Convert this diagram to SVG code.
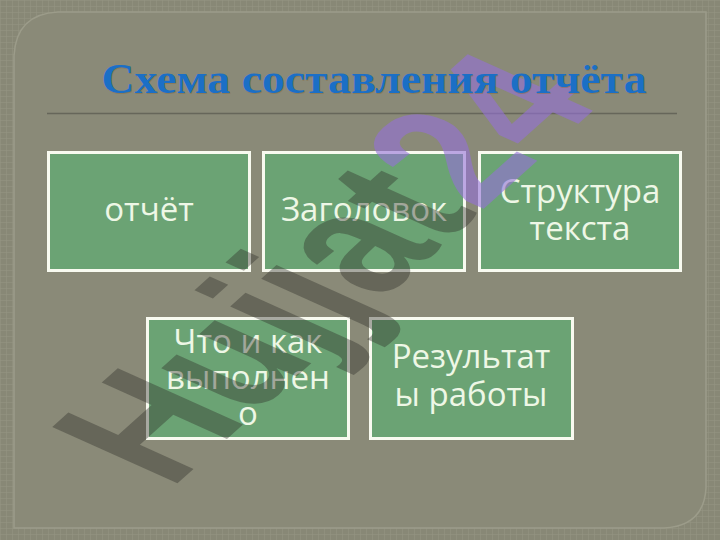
<svg xmlns="http://www.w3.org/2000/svg" width="720" height="540" viewBox="0 0 720 540">
  <defs>
    <pattern id="grid" width="12" height="12" patternUnits="userSpaceOnUse">
      <rect width="12" height="12" fill="#888876"/>
      <path d="M0.5 0V12M6.5 0V12M0 0.5H12M0 6.5H12" stroke="#959583" stroke-width="1" fill="none" opacity="0.5"/>
    </pattern>
  </defs>
  <style>
    .box { fill: #6ba374; stroke: #f8faf0; stroke-width: 3; }
    .lbl { font-family: "Open Sans", "Noto Sans", "DejaVu Sans", sans-serif; font-size: 33px; fill: #eef7e6; text-anchor: middle; }
    .title { font-family: "Liberation Serif", "DejaVu Serif", serif; font-weight: bold; font-size: 42px; text-anchor: middle; }
    .wm { font-family: "Liberation Sans", "DejaVu Sans", sans-serif; font-weight: bold; font-size: 100px; }
  </style>

  <!-- background -->
  <rect x="0" y="0" width="720" height="540" fill="url(#grid)"/>
  <path d="M14,56 Q16,14 58,12 L706,12 L706,488 Q704,526 664,528 L14,528 Z" fill="#8a8a78" stroke="#9c9c8a" stroke-width="1.5"/>
  <line x1="47" y1="113.5" x2="677" y2="113.5" stroke="#66665a" stroke-width="1.5"/>

  <!-- nodes -->
  <g id="node-otchet">
    <rect class="box" x="48.5" y="152.5" width="201" height="118"/>
    <text class="lbl" x="149" y="221">отчёт</text>
  </g>
  <g id="node-zagolovok">
    <rect class="box" x="263.5" y="152.5" width="201" height="118"/>
    <text class="lbl" x="364" y="221">Заголовок</text>
  </g>
  <g id="node-struktura">
    <rect class="box" x="479.5" y="152.5" width="201" height="118"/>
    <text class="lbl" x="580" y="203">Структура</text>
    <text class="lbl" x="580" y="240">текста</text>
  </g>
  <g id="node-chto">
    <rect class="box" x="147.5" y="318.5" width="201" height="120"/>
    <text class="lbl" x="248" y="353">Что и как</text>
    <text class="lbl" x="248" y="389">выполнен</text>
    <text class="lbl" x="248" y="425">о</text>
  </g>
  <g id="node-rezultaty">
    <rect class="box" x="370.5" y="318.5" width="202" height="120"/>
    <text class="lbl" x="471" y="368">Результат</text>
    <text class="lbl" x="471" y="406">ы работы</text>
  </g>

  <g id="connectors"></g>

  <!-- watermark -->
  <g id="watermark" transform="matrix(1.115,-1.0,1.82,0.82,170,490)">
    <text class="wm" x="0" y="0"><tspan fill="#30302a" fill-opacity="0.4">Hujjat</tspan><tspan fill="#9570d8" fill-opacity="0.6">24</tspan></text>
  </g>

  <!-- title -->
  <g id="title">
    <text class="title" x="374" y="93" textLength="545" lengthAdjust="spacingAndGlyphs" fill="#8a6a3a" opacity="0.45" transform="translate(1,1)">Схема составления отчёта</text>
    <text class="title" x="374" y="93" textLength="545" lengthAdjust="spacingAndGlyphs" fill="#1b6fc6">Схема составления отчёта</text>
  </g>
</svg>
